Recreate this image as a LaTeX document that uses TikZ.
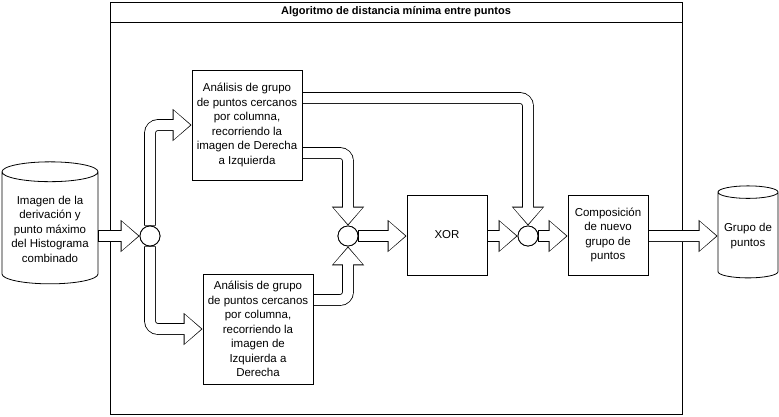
\documentclass[tikz,border=0pt]{standalone}
\usepackage{fontspec}
\setmainfont{Liberation Sans}
\usetikzlibrary{arrows.meta,shapes.geometric}
\begin{document}
\begin{tikzpicture}[x=1pt,y=-1pt,
  box/.style={draw,line width=0.8pt,minimum width=110pt,minimum height=110pt,align=center,font=\fontsize{11.5}{14.5}\selectfont,inner sep=1pt},
  sbox/.style={draw,line width=0.8pt,minimum width=80pt,minimum height=80pt,align=center,font=\fontsize{11.5}{14.5}\selectfont,inner sep=1pt},
  jn/.style={draw,circle,minimum size=20pt,inner sep=0pt,line width=0.8pt,fill=white},
  cyl/.style={draw,cylinder,shape border rotate=90,aspect=0.25,line width=0.8pt,align=center,font=\fontsize{11.5}{14.5}\selectfont,inner sep=1pt},
  faB/.style={line width=11.6pt,rounded corners=8pt,-{Triangle[length=19pt,width=31pt]}},
  faW/.style={white,line width=10pt,rounded corners=8pt,shorten <=0.8pt,shorten >=1.3pt,-{Triangle[length=16.6pt,width=28pt]}}]
\useasboundingbox (0,0) rectangle (779,416);
\def\fa#1{\draw[faB]#1;\draw[faW]#1;}
% frame
\draw[line width=0.8pt] (110,2) rectangle (682,414);
\draw[line width=0.8pt] (110,22) -- (682,22);
\node[font=\fontsize{11}{13}\selectfont\bfseries] (title) at (396,12) {Algoritmo de distancia mínima entre puntos};
% nodes
\node[cyl,minimum width=96pt,minimum height=122pt] (src) at (50,229) {Imagen de la\\derivación y\\punto máximo\\del Histograma\\combinado};
\node[box] (top) at (247,125) {Análisis de grupo\\de puntos cercanos\\por columna,\\recorriendo la\\imagen de Derecha\\a Izquierda};
\node[box] (bot) at (258,329) {Análisis de grupo\\de puntos cercanos\\por columna,\\recorriendo la\\imagen de\\Izquierda a\\Derecha};
\node[sbox] (xor) at (447,235) {XOR};
\node[sbox] (comp) at (608,235) {Composición\\de nuevo\\grupo de\\puntos};
\node[cyl,minimum width=60pt,minimum height=92pt] (dst) at (748,236) {Grupo de\\puntos};
\node[jn] (j1) at (150,236) {};
\node[jn] (j2) at (348,236) {};
\node[jn] (j3) at (528,236) {};
% connectors
\fa{(src.east|-j1) -- (j1.west)}
\fa{(j1.north) |- (top.west)}
\fa{(j1.south) |- (bot.west)}
\fa{([yshift=-28pt]top.east) -| (j2.north)}
\fa{([yshift=29pt]bot.east) -| (j2.south)}
\fa{(j2.east) -- (xor.west|-j2)}
\fa{(xor.east|-j3) -- (j3.west)}
\fa{([yshift=27pt]top.east) -| (j3.north)}
\fa{(j3.east) -- (comp.west|-j3)}
\fa{(comp.east|-dst) -- (dst.west)}
\node[jn] at (j1) {};
\node[jn] at (j2) {};
\node[jn] at (j3) {};
\end{tikzpicture}
\end{document}
